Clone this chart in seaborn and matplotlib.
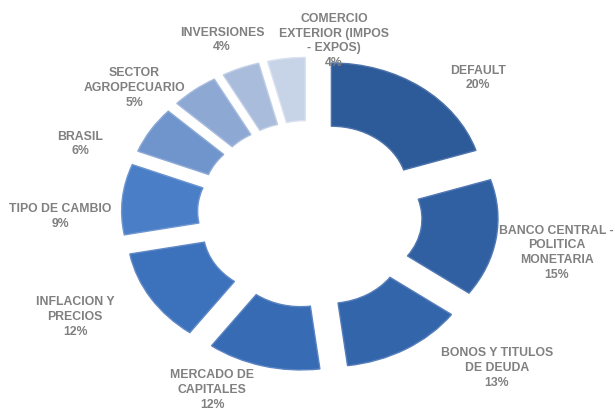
import matplotlib
matplotlib.use("Agg")
import matplotlib.pyplot as plt
import seaborn as sns
import numpy as np

sns.set_theme(style="white")
plt.rcParams['font.family'] = ['Liberation Sans', 'DejaVu Sans']

# ---- data ----
categories = [
    "DEFAULT",
    "BANCO CENTRAL -\nPOLITICA\nMONETARIA",
    "BONOS Y TITULOS\nDE DEUDA",
    "MERCADO DE\nCAPITALES",
    "INFLACION Y\nPRECIOS",
    "TIPO DE CAMBIO",
    "BRASIL",
    "SECTOR\nAGROPECUARIO",
    "INVERSIONES",
    "COMERCIO\nEXTERIOR (IMPOS\n- EXPOS)",
]
values = [20, 15, 13, 12, 12, 9, 6, 5, 4, 4]

# ---- style ----
colors = ["#2D5B99", "#3060A2", "#3365AB", "#376BB4", "#3C71BC",
          "#4A7EC6", "#7095CC", "#8EA8D4", "#A9BCDC", "#C7D3E7"]
edge_colors = ["#4E74AC", "#5279B4", "#567EBB", "#5B84C2", "#6189C6",
               "#6E96D0", "#8DAAD6", "#A7BCDE", "#C0CFE6", "#DAE2EF"]
# label centre positions in axes fraction (x, y)
label_pos = [(0.777, 0.811), (0.905, 0.388), (0.808, 0.109), (0.345, 0.056),
             (0.122, 0.232), (0.098, 0.475), (0.130, 0.651), (0.218, 0.787),
             (0.361, 0.903), (0.543, 0.901)]

fig = plt.figure(figsize=(6.15, 4.13), dpi=100)
ax = fig.add_axes([0, 0, 1, 1])

wedges, _ = ax.pie(values, startangle=90, counterclock=False,
                   colors=colors, explode=[0.24] * len(values),
                   wedgeprops=dict(width=0.5, linewidth=1.0))
for w, ec in zip(wedges, edge_colors):
    w.set_edgecolor(ec)

ax.set_aspect('auto')
ax.set_xlim(-2.039, 2.007)
ax.set_ylim(-1.573, 1.692)
ax.axis('off')

for cat, val, (lx, ly) in zip(categories, values, label_pos):
    ax.text(lx, ly, f"{cat}\n{val}%", transform=ax.transAxes,
            ha='center', va='center', fontsize=8.8, fontweight='bold',
            color='#808080', linespacing=1.3)

fig.savefig("out.png", dpi=100, facecolor='white')
